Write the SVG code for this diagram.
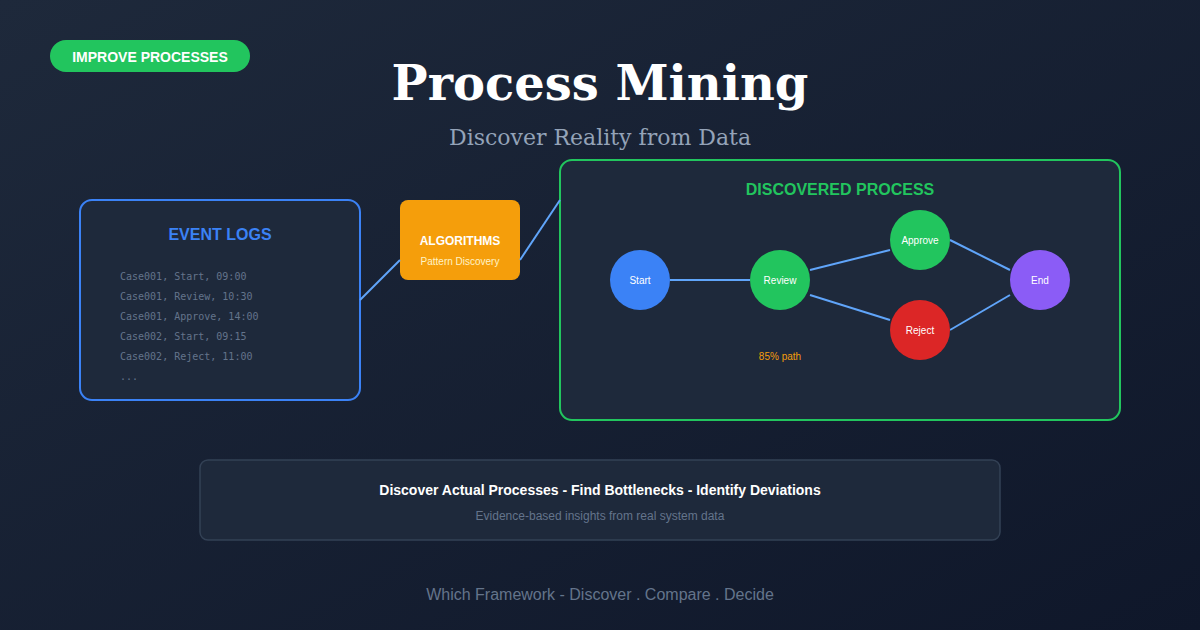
<svg xmlns="http://www.w3.org/2000/svg" width="1200" height="630" viewBox="0 0 1200 630">
<defs>
<linearGradient id="bg" x1="0" y1="0" x2="1" y2="1">
<stop offset="0" stop-color="#1e293b"/>
<stop offset="1" stop-color="#0f172a"/>
</linearGradient>
<style>
.sans{font-family:"Liberation Sans",Arial,sans-serif}
.mono{font-family:"DejaVu Sans Mono",monospace;font-size:10px;fill:#64748b}
.conn{stroke:#60a5fa;stroke-width:2;fill:none}
.nl{font-family:"Liberation Sans",Arial,sans-serif;font-size:10px;fill:#ffffff;text-anchor:middle}
</style>
</defs>
<rect width="1200" height="630" fill="url(#bg)"/>
<g id="badge">
<rect x="50" y="40" width="200" height="32" rx="16" fill="#22c55e"/>
<text x="150" y="62" class="sans" font-size="14" font-weight="bold" fill="#ffffff" text-anchor="middle">IMPROVE PROCESSES</text>
</g>
<g id="title">
<text x="600" y="100" font-family="'DejaVu Serif',serif" font-size="48" font-weight="bold" fill="#ffffff" text-anchor="middle">Process Mining</text>
<text x="600" y="145" font-family="'DejaVu Serif',serif" font-size="22" fill="#94a3b8" text-anchor="middle">Discover Reality from Data</text>
</g>
<g id="event-logs">
<rect x="80" y="200" width="280" height="200" rx="12" fill="#1e293b" stroke="#3b82f6" stroke-width="2"/>
<text x="220" y="240" class="sans" font-size="16" font-weight="bold" fill="#3b82f6" text-anchor="middle">EVENT LOGS</text>
<text x="120" y="280" class="mono">Case001, Start, 09:00</text>
<text x="120" y="300" class="mono">Case001, Review, 10:30</text>
<text x="120" y="320" class="mono">Case001, Approve, 14:00</text>
<text x="120" y="340" class="mono">Case002, Start, 09:15</text>
<text x="120" y="360" class="mono">Case002, Reject, 11:00</text>
<text x="120" y="380" class="mono">...</text>
</g>
<g id="algorithms">
<rect x="400" y="200" width="120" height="80" rx="8" fill="#f59e0b"/>
<text x="460" y="245" class="sans" font-size="12" font-weight="bold" fill="#ffffff" text-anchor="middle">ALGORITHMS</text>
<text x="460" y="265" class="sans" font-size="10" fill="#fef3c7" text-anchor="middle">Pattern Discovery</text>
</g>
<g id="discovered-process">
<rect x="560" y="160" width="560" height="260" rx="12" fill="#1e293b" stroke="#22c55e" stroke-width="2"/>
<text x="840" y="195" class="sans" font-size="16" font-weight="bold" fill="#22c55e" text-anchor="middle">DISCOVERED PROCESS</text>
<text x="780" y="360" class="sans" font-size="10" fill="#f59e0b" text-anchor="middle">85% path</text>
</g>
<g id="connectors">
<line class="conn" x1="360" y1="300" x2="400" y2="260"/>
<line class="conn" x1="520" y1="260" x2="560" y2="200"/>
<line class="conn" x1="670" y1="280" x2="750" y2="280"/>
<line class="conn" x1="810" y1="270" x2="890" y2="250"/>
<line class="conn" x1="810" y1="295" x2="890" y2="320"/>
<line class="conn" x1="950" y1="240" x2="1010" y2="270"/>
<line class="conn" x1="950" y1="330" x2="1010" y2="295"/>
</g>
<g id="node-start"><circle cx="640" cy="280" r="30" fill="#3b82f6"/><text x="640" y="284" class="nl">Start</text></g>
<g id="node-review"><circle cx="780" cy="280" r="30" fill="#22c55e"/><text x="780" y="284" class="nl">Review</text></g>
<g id="node-approve"><circle cx="920" cy="240" r="30" fill="#22c55e"/><text x="920" y="244" class="nl">Approve</text></g>
<g id="node-reject"><circle cx="920" cy="330" r="30" fill="#dc2626"/><text x="920" y="334" class="nl">Reject</text></g>
<g id="node-end"><circle cx="1040" cy="280" r="30" fill="#8b5cf6"/><text x="1040" y="284" class="nl">End</text></g>
<g id="benefits">
<rect x="200" y="460" width="800" height="80" rx="8" fill="#1e293b" stroke="#334155" stroke-width="1.5"/>
<text x="600" y="495" class="sans" font-size="14" font-weight="bold" fill="#ffffff" text-anchor="middle">Discover Actual Processes - Find Bottlenecks - Identify Deviations</text>
<text x="600" y="520" class="sans" font-size="12" fill="#64748b" text-anchor="middle">Evidence-based insights from real system data</text>
</g>
<g id="footer">
<text x="600" y="600" class="sans" font-size="16" fill="#64748b" text-anchor="middle">Which Framework - Discover . Compare . Decide</text>
</g>
</svg>
